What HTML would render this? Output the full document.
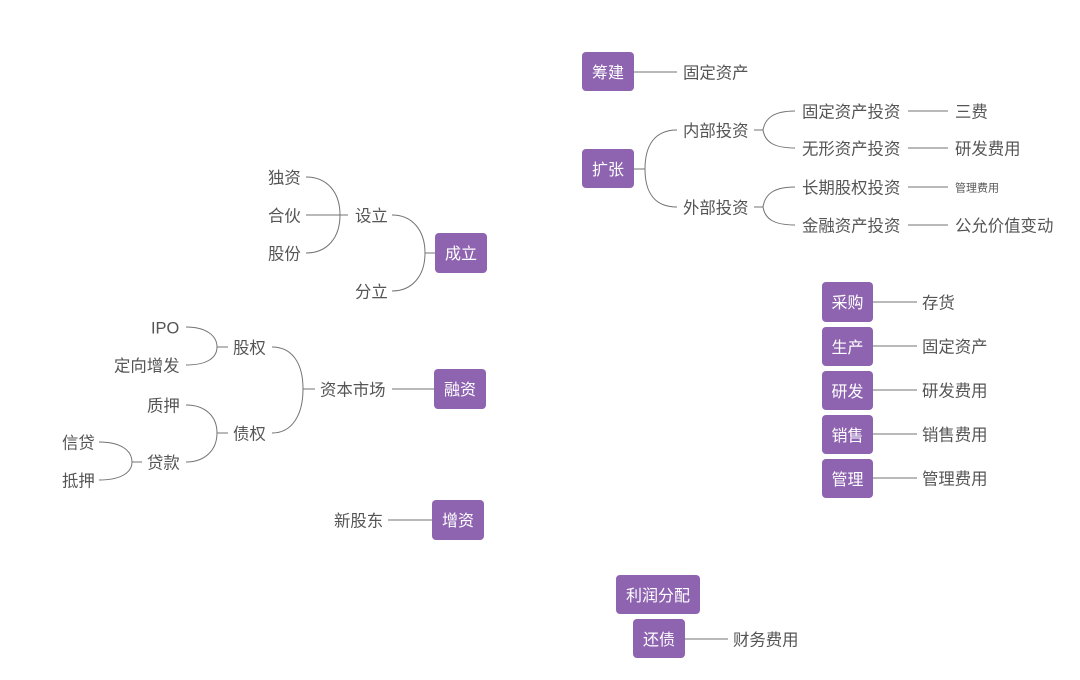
<!DOCTYPE html>
<html><head><meta charset="utf-8"><style>
html,body{margin:0;padding:0;background:#fff;}
#c{position:relative;width:1080px;height:680px;overflow:hidden;font-family:"Liberation Sans","Noto Sans CJK SC",sans-serif;}
.t{position:absolute;height:22px;line-height:22px;font-size:16.4px;color:#555;white-space:nowrap;transform:translateY(1.5px);}
.b{position:absolute;box-sizing:border-box;padding-top:2px;background:#8e63b0;color:#fff;border-radius:4px;font-size:16px;text-align:center;white-space:nowrap;}
svg{position:absolute;left:0;top:0;}
</style></head><body><div id="c">
<svg width="1080" height="680" fill="none" stroke="#737373" stroke-width="1">
<path d="M634 72H677"/>
<path d="M634 169H645"/>
<path d="M645 169C645 145 655 130 677 130"/>
<path d="M645 169C645 193 655 207 677 207"/>
<path d="M754 130H763"/>
<path d="M763 130C765 118 774 111 795 111"/>
<path d="M763 130C765 142 774 148 795 148"/>
<path d="M754 207H763"/>
<path d="M763 207C765 194 774 187 795 187"/>
<path d="M763 207C765 219 774 225 795 225"/>
<path d="M908 111H948M908 148H948M908 187H948M908 225H948"/>
<path d="M435 253H425"/>
<path d="M425 253C425 230 412 215 392 215"/>
<path d="M425 253C425 276 412 291 392 291"/>
<path d="M348 215H306"/>
<path d="M340 215C340 192 327 177 306 177"/>
<path d="M340 215C340 238 327 253 306 253"/>
<path d="M392 389H434"/>
<path d="M315 389H303"/>
<path d="M303 389C303 363 292 347 272 347"/>
<path d="M303 389C303 415 292 433 272 433"/>
<path d="M228 347H217"/>
<path d="M217 347C217 335 205 327 186 327"/>
<path d="M217 347C217 359 205 365 186 365"/>
<path d="M228 433H217"/>
<path d="M217 433C217 416 205 405 186 405"/>
<path d="M217 433C217 450 205 462 186 462"/>
<path d="M142 462H132"/>
<path d="M132 462C132 450 120 442 99 442"/>
<path d="M132 462C132 473 120 480 99 480"/>
<path d="M388 520H432"/>
<path d="M873 302H917M873 346H917M873 390H917M873 434H917M873 478H917"/>
<path d="M685 639H728"/>
</svg>

<div class="b" style="left:582px;top:52px;width:52px;height:39px;line-height:39px;">筹建</div>
<div class="b" style="left:582px;top:149px;width:52px;height:39px;line-height:39px;">扩张</div>
<div class="b" style="left:435px;top:233px;width:52px;height:40px;line-height:40px;">成立</div>
<div class="b" style="left:434px;top:369px;width:52px;height:40px;line-height:40px;">融资</div>
<div class="b" style="left:432px;top:500px;width:52px;height:40px;line-height:40px;">增资</div>
<div class="b" style="left:822px;top:282px;width:51px;height:40px;line-height:40px;">采购</div>
<div class="b" style="left:822px;top:327px;width:51px;height:39px;line-height:39px;">生产</div>
<div class="b" style="left:822px;top:371px;width:51px;height:39px;line-height:39px;">研发</div>
<div class="b" style="left:822px;top:415px;width:51px;height:39px;line-height:39px;">销售</div>
<div class="b" style="left:822px;top:459px;width:51px;height:39px;line-height:39px;">管理</div>
<div class="b" style="left:616px;top:575px;width:84px;height:39px;line-height:39px;">利润分配</div>
<div class="b" style="left:633px;top:619px;width:52px;height:39px;line-height:39px;">还债</div>

<div class="t" style="left:683px;top:61px;">固定资产</div>
<div class="t" style="left:683px;top:119px;">内部投资</div>
<div class="t" style="left:683px;top:196px;">外部投资</div>
<div class="t" style="left:802px;top:100px;">固定资产投资</div>
<div class="t" style="left:802px;top:137px;">无形资产投资</div>
<div class="t" style="left:802px;top:176px;">长期股权投资</div>
<div class="t" style="left:802px;top:214px;">金融资产投资</div>
<div class="t" style="left:955px;top:100px;">三费</div>
<div class="t" style="left:955px;top:137px;">研发费用</div>
<div class="t" style="left:955px;top:176px;font-size:11px;">管理费用</div>
<div class="t" style="left:955px;top:214px;">公允价值变动</div>

<div class="t" style="left:268px;top:166px;">独资</div>
<div class="t" style="left:268px;top:204px;">合伙</div>
<div class="t" style="left:268px;top:242px;">股份</div>
<div class="t" style="left:355px;top:204px;">设立</div>
<div class="t" style="left:355px;top:280px;">分立</div>

<div class="t" style="left:151px;top:316px;">IPO</div>
<div class="t" style="left:114px;top:354px;">定向增发</div>
<div class="t" style="left:233px;top:336px;">股权</div>
<div class="t" style="left:233px;top:422px;">债权</div>
<div class="t" style="left:147px;top:394px;">质押</div>
<div class="t" style="left:147px;top:451px;">贷款</div>
<div class="t" style="left:62px;top:431px;">信贷</div>
<div class="t" style="left:62px;top:469px;">抵押</div>
<div class="t" style="left:320px;top:378px;">资本市场</div>
<div class="t" style="left:334px;top:509px;">新股东</div>

<div class="t" style="left:922px;top:291px;">存货</div>
<div class="t" style="left:922px;top:335px;">固定资产</div>
<div class="t" style="left:922px;top:379px;">研发费用</div>
<div class="t" style="left:922px;top:423px;">销售费用</div>
<div class="t" style="left:922px;top:467px;">管理费用</div>
<div class="t" style="left:733px;top:628px;">财务费用</div>
</div></body></html>
